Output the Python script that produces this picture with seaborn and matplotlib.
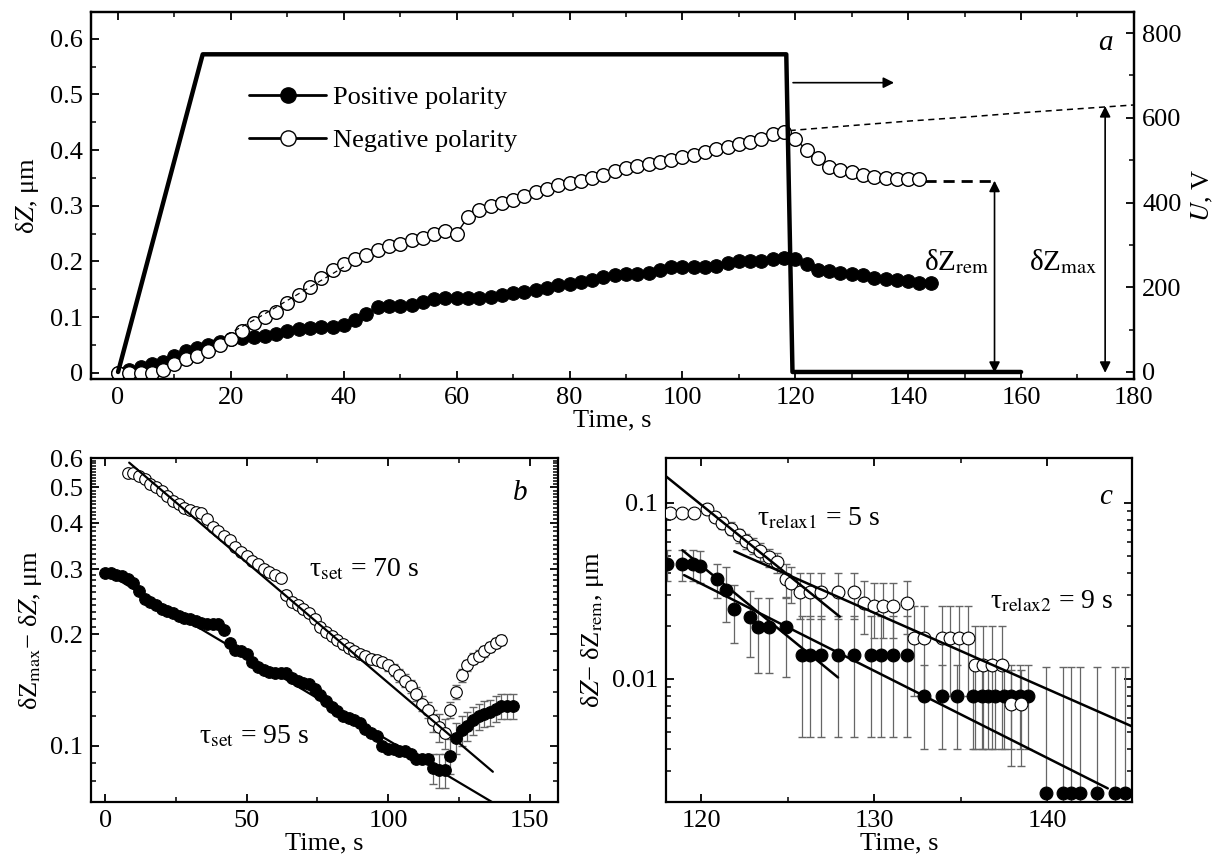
# -*- coding: utf-8 -*-
"""
Deformation of the film under a voltage pulse: growth, settling and relaxation
"""
import matplotlib
matplotlib.use("Agg")
import matplotlib.pyplot as plt
from matplotlib.lines import Line2D
from matplotlib.ticker import MultipleLocator, FixedLocator, FixedFormatter, FuncFormatter, NullFormatter
import seaborn as sns

# ---------------- data ----------------
# panel a: dZ (um) vs time (s)
a_pos_t = list(range(0, 145, 2))
a_pos_v = [0.0, 0.005, 0.01, 0.015, 0.02, 0.03, 0.04, 0.045, 0.05, 0.055,
           0.06, 0.063, 0.065, 0.067, 0.07, 0.075, 0.078, 0.08, 0.082, 0.083,
           0.085, 0.095, 0.105, 0.118, 0.12, 0.12, 0.122, 0.127, 0.132, 0.135,
           0.135, 0.135, 0.135, 0.137, 0.14, 0.143, 0.145, 0.148, 0.152, 0.157,
           0.16, 0.163, 0.167, 0.172, 0.175, 0.177, 0.178, 0.18, 0.185, 0.19,
           0.19, 0.19, 0.19, 0.192, 0.197, 0.2, 0.2, 0.2, 0.205, 0.207,
           0.205, 0.195, 0.185, 0.182, 0.18, 0.177, 0.175, 0.17, 0.168, 0.167,
           0.165, 0.162, 0.162]
a_neg_t = list(range(0, 143, 2))
a_neg_v = [0.0, 0.0, 0.0, 0.0, 0.005, 0.015, 0.025, 0.03, 0.04, 0.05,
           0.06, 0.075, 0.09, 0.1, 0.11, 0.125, 0.14, 0.155, 0.17, 0.185,
           0.195, 0.205, 0.212, 0.22, 0.227, 0.232, 0.238, 0.243, 0.25, 0.255,
           0.25, 0.28, 0.292, 0.3, 0.305, 0.31, 0.318, 0.325, 0.33, 0.337,
           0.34, 0.345, 0.35, 0.355, 0.362, 0.367, 0.372, 0.375, 0.378, 0.382,
           0.388, 0.392, 0.397, 0.402, 0.405, 0.41, 0.415, 0.42, 0.428, 0.432,
           0.42, 0.4, 0.385, 0.37, 0.365, 0.36, 0.355, 0.352, 0.35, 0.348,
           0.348, 0.348]
# applied voltage (right axis)
volt_t = [0, 15, 118.4, 119.5, 160]
volt_u = [0, 750, 750, 0, 0]
# fits drawn as dashed lines
fit_early_t = [15, 20, 25, 30, 35, 40]
fit_early_v = [0.05, 0.072, 0.1, 0.13, 0.16, 0.19]
fit_late_t = [119, 130, 140, 150, 160, 170, 180]
fit_late_v = [0.435, 0.444, 0.452, 0.459, 0.467, 0.474, 0.481]
dz_rem = 0.345
dz_max = 0.479

# panel b: dZmax - dZ (log) vs time
b_neg_t = list(range(8, 141, 2))
b_neg_v = [0.545, 0.545, 0.535, 0.525, 0.51, 0.50, 0.49, 0.475, 0.46, 0.45,
           0.44, 0.435, 0.43, 0.425, 0.41, 0.39, 0.38, 0.37, 0.36, 0.345,
           0.335, 0.325, 0.315, 0.31, 0.30, 0.295, 0.29, 0.285, 0.255, 0.245,
           0.24, 0.235, 0.228, 0.22, 0.21, 0.203, 0.198, 0.193, 0.188, 0.184,
           0.18, 0.177, 0.175, 0.172, 0.17, 0.168, 0.165, 0.16, 0.155, 0.15,
           0.145, 0.138, 0.13, 0.125, 0.117, 0.112, 0.108, 0.125, 0.14, 0.155,
           0.165, 0.172, 0.175, 0.18, 0.185, 0.19, 0.193]
b_neg_err = [0.005, 0.005, 0.005, 0.005, 0.005, 0.005, 0.005, 0.005, 0.005, 0.005,
             0.005, 0.005, 0.005, 0.005, 0.005, 0.005, 0.005, 0.005, 0.005, 0.005,
             0.006, 0.006, 0.006, 0.006, 0.006, 0.006, 0.006, 0.006, 0.008, 0.01,
             0.01, 0.006, 0.006, 0.006, 0.006, 0.006, 0.006, 0.006, 0.006, 0.006,
             0.006]  # from t = 60 s on
b_pos_t = list(range(0, 145, 2))
b_pos_v = [0.293, 0.293, 0.29, 0.287, 0.283, 0.275, 0.262, 0.25, 0.245, 0.24,
           0.235, 0.232, 0.228, 0.224, 0.222, 0.22, 0.218, 0.215, 0.214, 0.214,
           0.213, 0.205, 0.19, 0.182, 0.18, 0.177, 0.168, 0.163, 0.16, 0.158,
           0.157, 0.157, 0.157, 0.152, 0.15, 0.148, 0.147, 0.142, 0.137, 0.132,
           0.127, 0.124, 0.12, 0.119, 0.117, 0.115, 0.111, 0.108, 0.106, 0.1,
           0.098, 0.098, 0.097, 0.097, 0.095, 0.092, 0.092, 0.092, 0.087, 0.086,
           0.086, 0.094, 0.105, 0.11, 0.113, 0.117, 0.12, 0.122, 0.123, 0.126,
           0.128, 0.128, 0.128]
b_pos_err = [0.008, 0.009, 0.009, 0.01, 0.01, 0.01, 0.01, 0.01, 0.01, 0.01,
             0.01, 0.01, 0.01, 0.01, 0.01]  # last 15 points
b_fit_neg_t = [8.5, 137]
b_fit_neg_v = [0.583, 0.085]
b_fit_pos_t = [0, 140]
b_fit_pos_v = [0.295, 0.068]

# panel c: dZ - dZrem (log) vs time
c_neg_t = [118.2, 118.9, 119.6, 120.3, 120.8, 121.2, 121.7, 122.2, 122.6, 123.0,
           123.4, 123.9, 124.4, 124.9, 125.2, 125.7, 126.3, 126.9, 127.9, 128.8,
           129.4, 130.0, 130.5, 131.1, 131.9, 132.3, 132.9, 133.9, 134.4, 134.9,
           135.4, 135.8, 136.3, 136.8, 137.4, 137.9, 138.5]
c_neg_v = [0.088, 0.088, 0.088, 0.093, 0.083, 0.077, 0.0715, 0.0655, 0.061, 0.057,
           0.053, 0.049, 0.046, 0.037, 0.035, 0.031, 0.031, 0.031, 0.031, 0.031,
           0.027, 0.026, 0.026, 0.026, 0.027, 0.017, 0.017, 0.017, 0.017, 0.017,
           0.017, 0.012, 0.012, 0.012, 0.012, 0.0072, 0.0072]
c_neg_err = [0.004, 0.004, 0.004, 0.004, 0.004, 0.006, 0.006, 0.006, 0.006, 0.006,
             0.006, 0.006, 0.006, 0.008, 0.008, 0.009, 0.009, 0.009, 0.009, 0.009,
             0.009, 0.009, 0.009, 0.009, 0.009, 0.009, 0.009, 0.009, 0.009, 0.009,
             0.009, 0.008, 0.008, 0.008, 0.008, 0.004, 0.004]
c_pos_t = [118.0, 118.9, 119.5, 119.9, 120.9, 121.4, 121.9, 122.8, 123.3, 123.9,
           124.9, 125.8, 126.3, 126.9, 127.9, 128.8, 129.8, 130.4, 131.1, 131.9,
           132.9, 133.9, 134.8, 135.7, 136.2, 136.6, 137.0, 137.5, 137.9, 138.4,
           138.9, 139.9, 140.9, 141.4, 141.9, 142.9, 143.9, 144.5]
c_pos_v = [0.045, 0.045, 0.045, 0.044, 0.037, 0.032, 0.025, 0.0226, 0.0198, 0.0198,
           0.0198, 0.0137, 0.0137, 0.0137, 0.0137, 0.0137, 0.0137, 0.0137, 0.0137, 0.0137,
           0.008, 0.008, 0.008, 0.008, 0.008, 0.008, 0.008, 0.008, 0.008, 0.008,
           0.008, 0.00225, 0.00225, 0.00225, 0.00225, 0.00225, 0.00225, 0.00225]
c_pos_err = [0.009, 0.009, 0.009, 0.009, 0.008, 0.011, 0.009, 0.0092, 0.009, 0.009,
             0.0095, 0.009, 0.009, 0.009, 0.009, 0.009, 0.009, 0.009, 0.009, 0.009,
             0.004, 0.004, 0.004, 0.004, 0.004, 0.004, 0.004, 0.004, 0.004, 0.004,
             0.004, 0.0095, 0.0095, 0.0095, 0.0095, 0.0095, 0.0095, 0.0095]
c_fit1_t, c_fit1_v = [117.9, 128.0], [0.143, 0.0226]
c_fit2_t, c_fit2_v = [121.9, 144.9], [0.0532, 0.00538]
c_fit3_t, c_fit3_v = [118.9, 127.9], [0.0539, 0.0102]
c_fit4_t, c_fit4_v = [119.0, 143.5], [0.0389, 0.00239]

# ---------------- style ----------------
FS = 19
sns.set_style("ticks")
plt.rcParams['font.family'] = ['Liberation Serif', 'DejaVu Serif']
plt.rcParams['mathtext.fontset'] = 'stix'
plt.rcParams['font.size'] = FS
plt.rcParams['text.color'] = 'black'
plt.rcParams['axes.labelcolor'] = 'black'
plt.rcParams['axes.edgecolor'] = 'black'
plt.rcParams['axes.linewidth'] = 1.6
plt.rcParams['axes.labelsize'] = FS
for k in ('xtick', 'ytick'):
    plt.rcParams[k + '.color'] = 'black'
    plt.rcParams[k + '.direction'] = 'in'
    plt.rcParams[k + '.major.size'] = 6
    plt.rcParams[k + '.minor.size'] = 3.5
    plt.rcParams[k + '.major.width'] = 1.3
    plt.rcParams[k + '.minor.width'] = 1.1
    plt.rcParams[k + '.labelsize'] = FS
    plt.rcParams[k + '.major.pad'] = 6

ERR = '#666666'

fig = plt.figure(figsize=(12.26, 8.66), dpi=100)
ax_a = fig.add_axes([0.0742, 0.5624, 0.8507, 0.4238])
ax_u = ax_a.twinx()
ax_b = fig.add_axes([0.0742, 0.0739, 0.3809, 0.3972])
ax_c = fig.add_axes([0.5432, 0.0739, 0.3801, 0.3972])

# ---------------- panel a ----------------
sns.lineplot(x=a_pos_t, y=a_pos_v, ax=ax_a, color='black', lw=1, marker='o', markersize=9.8,
             markerfacecolor='black', markeredgecolor='black', estimator=None, sort=False, zorder=3)
sns.lineplot(x=a_neg_t, y=a_neg_v, ax=ax_a, color='black', lw=1, marker='o', markersize=9.8,
             markerfacecolor='white', markeredgecolor='black', markeredgewidth=1, estimator=None,
             sort=False, zorder=4)
ax_a.plot(fit_early_t, fit_early_v, color='black', lw=0.9, dashes=(4, 3), zorder=5)
ax_a.plot(fit_late_t, fit_late_v, color='black', lw=1.1, dashes=(4, 3), zorder=2)
ax_a.plot([143, 155.5], [dz_rem, dz_rem], color='black', lw=2, dashes=(4, 2.5))

arrow = dict(arrowstyle='<|-|>', color='black', lw=1.2, mutation_scale=16, shrinkA=0, shrinkB=0)
ax_a.annotate('', xy=(155.3, 0), xytext=(155.3, dz_rem), arrowprops=arrow)
ax_a.annotate('', xy=(174.9, 0), xytext=(174.9, dz_max), arrowprops=arrow)
ax_a.annotate('', xy=(137.5, 0.521), xytext=(119.6, 0.521),
              arrowprops=dict(arrowstyle='-|>', color='black', lw=1.2, mutation_scale=16,
                              shrinkA=0, shrinkB=0))
ax_a.text(148.6, 0.2, 'δZ$_{\\rm rem}$', fontsize=21, ha='center', va='center')
ax_a.text(167.5, 0.2, 'δZ$_{\\rm max}$', fontsize=21, ha='center', va='center')
ax_a.text(175, 0.592, 'a', fontsize=21, style='italic', ha='center', va='center')

ax_a.set_xlim(-4.8, 180)
ax_a.set_ylim(-0.011, 0.648)
ax_a.xaxis.set_major_locator(MultipleLocator(20))
ax_a.xaxis.set_minor_locator(MultipleLocator(10))
ax_a.yaxis.set_major_locator(MultipleLocator(0.1))
ax_a.yaxis.set_minor_locator(MultipleLocator(0.05))
ax_a.yaxis.set_major_formatter(FuncFormatter(lambda v, p: '0' if abs(v) < 1e-9 else f'{v:.1f}'))
ax_a.tick_params(which='both', top=True, right=False)
ax_a.set_xlabel('Time, s', labelpad=0)
ax_a.set_ylabel('δ$Z$, μm', labelpad=6)

handles = [Line2D([], [], color='black', lw=2, marker='o', markersize=11, markerfacecolor='black'),
           Line2D([], [], color='black', lw=2, marker='o', markersize=11, markerfacecolor='white')]
ax_a.legend(handles, ['Positive polarity', 'Negative polarity'], loc='upper left',
            bbox_to_anchor=(0.152, 0.8), frameon=False, handlelength=2.9, handletextpad=0.25,
            labelspacing=0.75, borderaxespad=0, borderpad=0, fontsize=FS)

sns.lineplot(x=volt_t, y=volt_u, ax=ax_u, color='black', lw=3.2, estimator=None, sort=False)
ax_u.set_ylim(-16.5, 850)
ax_u.yaxis.set_major_locator(MultipleLocator(200))
ax_u.yaxis.set_minor_locator(MultipleLocator(100))
ax_u.tick_params(which='both', right=True, left=False, top=False, bottom=False)
ax_u.set_ylabel('$U$, V', labelpad=6)

# ---------------- panel b ----------------
ax_b.set_yscale('log')
ax_b.errorbar(b_neg_t[26:], b_neg_v[26:], yerr=b_neg_err, fmt='none', ecolor=ERR, elinewidth=0.9,
              capsize=3, zorder=2)
ax_b.errorbar(b_pos_t[-15:], b_pos_v[-15:], yerr=b_pos_err, fmt='none', ecolor=ERR, elinewidth=0.9,
              capsize=3, zorder=2)
sns.scatterplot(x=b_pos_t, y=b_pos_v, ax=ax_b, s=70, color='black', edgecolor='black', linewidth=0.8,
                zorder=3)
sns.scatterplot(x=b_neg_t, y=b_neg_v, ax=ax_b, s=70, color='white', edgecolor='black', linewidth=0.8,
                zorder=4)
ax_b.plot(b_fit_neg_t, b_fit_neg_v, color='black', lw=1.6, zorder=5)
ax_b.plot(b_fit_pos_t, b_fit_pos_v, color='black', lw=1.6, zorder=5)
ax_b.text(72, 0.3, 'τ$_{\\rm set}$ = 70 s', fontsize=20, ha='left', va='center')
ax_b.text(33, 0.106, 'τ$_{\\rm set}$ = 95 s', fontsize=20, ha='left', va='center')
ax_b.text(146.5, 0.484, 'b', fontsize=21, style='italic', ha='center', va='center')

ax_b.set_xlim(-5, 160)
ax_b.set_ylim(0.0704, 0.6)
ax_b.xaxis.set_major_locator(MultipleLocator(50))
ax_b.xaxis.set_minor_locator(MultipleLocator(25))
b_major = [0.1, 0.2, 0.3, 0.4, 0.5, 0.6]
b_minor = [0.08, 0.09, 0.12, 0.14, 0.16, 0.18] + [round(0.2 + 0.01 * i, 2) for i in range(1, 40)]
ax_b.yaxis.set_major_locator(FixedLocator(b_major))
ax_b.yaxis.set_major_formatter(FixedFormatter(['0.1', '0.2', '0.3', '0.4', '0.5', '0.6']))
ax_b.yaxis.set_minor_locator(FixedLocator(b_minor))
ax_b.yaxis.set_minor_formatter(NullFormatter())
ax_b.tick_params(which='both', top=True, right=True)
ax_b.set_xlabel('Time, s', labelpad=0)
ax_b.set_ylabel('δZ$_{\\rm max}$− δ$Z$, μm', labelpad=4)

# ---------------- panel c ----------------
ax_c.set_yscale('log')
ax_c.errorbar(c_neg_t, c_neg_v, yerr=c_neg_err, fmt='none', ecolor=ERR, elinewidth=0.9, capsize=3,
              zorder=2)
ax_c.errorbar(c_pos_t, c_pos_v, yerr=c_pos_err, fmt='none', ecolor=ERR, elinewidth=0.9, capsize=3,
              zorder=2)
sns.scatterplot(x=c_pos_t, y=c_pos_v, ax=ax_c, s=85, color='black', edgecolor='black', linewidth=0.8,
                zorder=3)
sns.scatterplot(x=c_neg_t, y=c_neg_v, ax=ax_c, s=85, color='white', edgecolor='black', linewidth=0.8,
                zorder=4)
for ft, fv in ((c_fit1_t, c_fit1_v), (c_fit2_t, c_fit2_v), (c_fit3_t, c_fit3_v), (c_fit4_t, c_fit4_v)):
    ax_c.plot(ft, fv, color='black', lw=1.8, zorder=5)
ax_c.text(123.2, 0.0815, 'τ$_{\\rm relax1}$ = 5 s', fontsize=20, ha='left', va='center')
ax_c.text(136.7, 0.0274, 'τ$_{\\rm relax2}$ = 9 s', fontsize=20, ha='left', va='center')
ax_c.text(143.35, 0.108, 'c', fontsize=21, style='italic', ha='center', va='center')

ax_c.set_xlim(117.95, 144.9)
ax_c.set_ylim(0.002, 0.18)
ax_c.xaxis.set_major_locator(MultipleLocator(10))
ax_c.xaxis.set_minor_locator(MultipleLocator(5))
ax_c.yaxis.set_major_locator(FixedLocator([0.01, 0.1]))
ax_c.yaxis.set_major_formatter(FixedFormatter(['0.01', '0.1']))
ax_c.yaxis.set_minor_locator(FixedLocator([0.002, 0.003, 0.004, 0.005, 0.006, 0.007, 0.008, 0.009,
                                           0.02, 0.03, 0.04, 0.05, 0.06, 0.07, 0.08, 0.09]))
ax_c.yaxis.set_minor_formatter(NullFormatter())
ax_c.tick_params(which='both', top=True, right=True)
ax_c.set_xlabel('Time, s', labelpad=0)
ax_c.set_ylabel('δ$Z$− δZ$_{\\rm rem}$, μm', labelpad=4)

plt.savefig('out.png', dpi=100)
plt.close()
